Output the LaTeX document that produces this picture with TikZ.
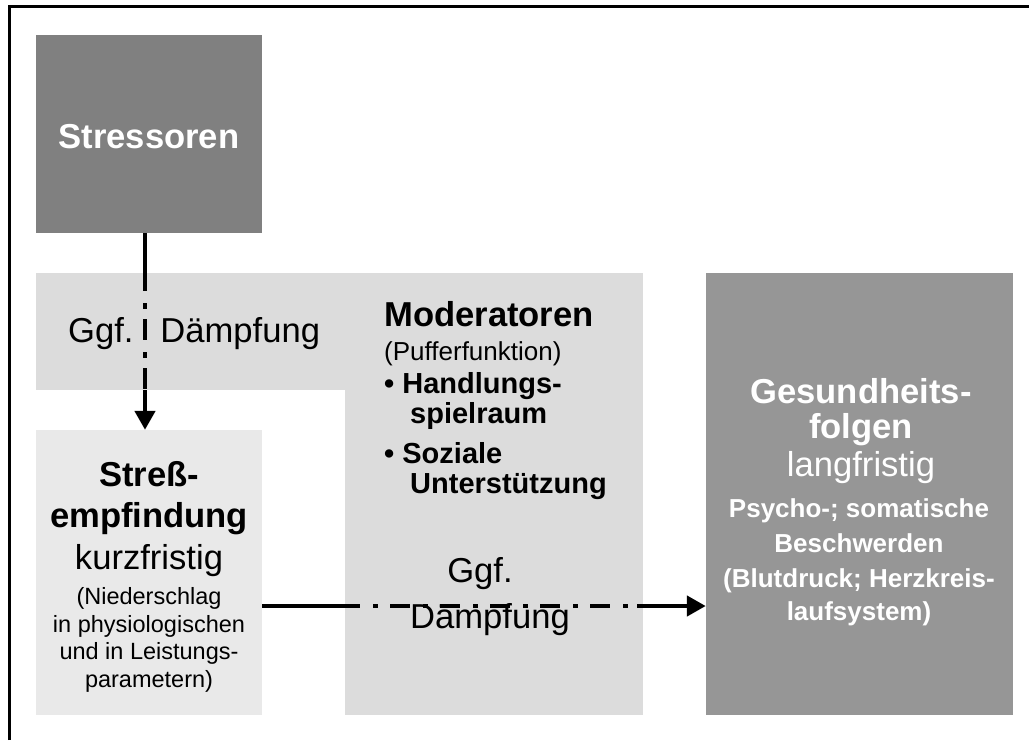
\documentclass[tikz,border=0pt]{standalone}
\usepackage{fontspec}
\setmainfont{Liberation Sans}
\usetikzlibrary{arrows.meta}
\definecolor{boxdark}{HTML}{808080}
\definecolor{boxmid}{HTML}{969696}
\definecolor{boxlight}{HTML}{DCDCDC}
\definecolor{boxpale}{HTML}{E9E9E9}
\newcommand{\FBig}{\fontsize{34.6}{40}\selectfont}
\newcommand{\FMid}{\fontsize{29}{34}\selectfont}
\newcommand{\FSm}{\fontsize{26}{30}\selectfont}
\newcommand{\FXs}{\fontsize{23.5}{28}\selectfont}
\begin{document}
\begin{tikzpicture}[x=1pt,y=-1pt,
  box/.style={draw=none,inner sep=0pt,rectangle},
  txt/.style={inner sep=0pt,anchor=base},
  txtl/.style={inner sep=0pt,anchor=base west},
  conn/.style={line width=4.5pt,black},
  dashdotline/.style={dash pattern=on 21pt off 12pt on 6pt off 10pt},
  dashdoth/.style={dash pattern=on 20pt off 13pt on 5pt off 12pt},
  tip/.style={-{Triangle[length=19pt,width=20pt]}}]
\useasboundingbox (0,0) rectangle (1029,740);
% frame (top and left only)
\draw[line width=3pt] (9.5,740) -- (9.5,6.5) -- (1029,6.5);
% boxes
\node[box,fill=boxdark,minimum width=226pt,minimum height=198pt] (stress) at (149,134) {};
\node[box,fill=boxlight,minimum width=309pt,minimum height=117pt] (damp) at (190.5,331.5) {};
\node[box,fill=boxlight,minimum width=298pt,minimum height=442pt] (mod) at (494,494) {};
\node[box,fill=boxpale,minimum width=226pt,minimum height=285pt] (emp) at (149,572.5) {};
\node[box,fill=boxmid,minimum width=307pt,minimum height=442pt] (gesund) at (859.5,494) {};
% texts
\node[txt,text=white] (t1) at (149,148) {\FBig\bfseries Stressoren};
\node[txtl] (t2) at (68,342) {\FBig Ggf.\hspace{14pt} Dämpfung};
\node[txtl] (t3) at (384,326) {\FBig\bfseries Moderatoren};
\node[txtl] (t4) at (384,360) {\FSm (Pufferfunktion)};
\node[txtl] (t5) at (384,393) {\FMid\bfseries • Handlungs-};
\node[txtl] (t6) at (410,423) {\FMid\bfseries spielraum};
\node[txtl] (t7) at (384,463) {\FMid\bfseries • Soziale};
\node[txtl] (t8) at (410,493) {\FMid\bfseries Unterstützung};
\node[txt] (t9) at (480,582) {\FBig Ggf.};
\node[txt] (t10) at (490,628) {\FBig Dämpfung};
\node[txt] (t11) at (149,486) {\FBig\bfseries Streß-};
\node[txt] (t12) at (149,527) {\FBig\bfseries empfindung};
\node[txt] (t13) at (149,569) {\FBig kurzfristig};
\node[txt] (t14) at (149,604) {\FXs (Niederschlag};
\node[txt] (t15) at (149,632) {\FXs in physiologischen};
\node[txt] (t16) at (149,659) {\FXs und in Leistungs-};
\node[txt] (t17) at (149,687) {\FXs parametern)};
\node[txt,text=white] (t18) at (861,403) {\FBig\bfseries Gesundheits-};
\node[txt,text=white] (t19) at (861,438) {\FBig\bfseries folgen};
\node[txt,text=white] (t20) at (861,476) {\FBig langfristig};
\node[txt,text=white] (t21) at (859,517) {\FSm\bfseries Psycho-; somatische};
\node[txt,text=white] (t22) at (859,552) {\FSm\bfseries Beschwerden};
\node[txt,text=white] (t23) at (859,587) {\FSm\bfseries (Blutdruck; Herzkreis-};
\node[txt,text=white] (t24) at (859,620) {\FSm\bfseries laufsystem)};
% vertical connector
\coordinate (v1) at (145,270);
\coordinate (v2) at (145,390);
\draw[conn] (stress.south -| v1) -- (v1);
\draw[conn,dashdotline] (v1) -- (v2);
\draw[conn,tip] (v2) -- (v2 |- emp.north);
% horizontal connector
\coordinate (h1) at (340,606);
\coordinate (h2) at (637,606);
\draw[conn] (emp.east |- h1) -- (h1);
\draw[conn,dashdoth] (h1) -- (h2);
\draw[conn,tip] (h2) -- (gesund.west |- h2);
\end{tikzpicture}
\end{document}
